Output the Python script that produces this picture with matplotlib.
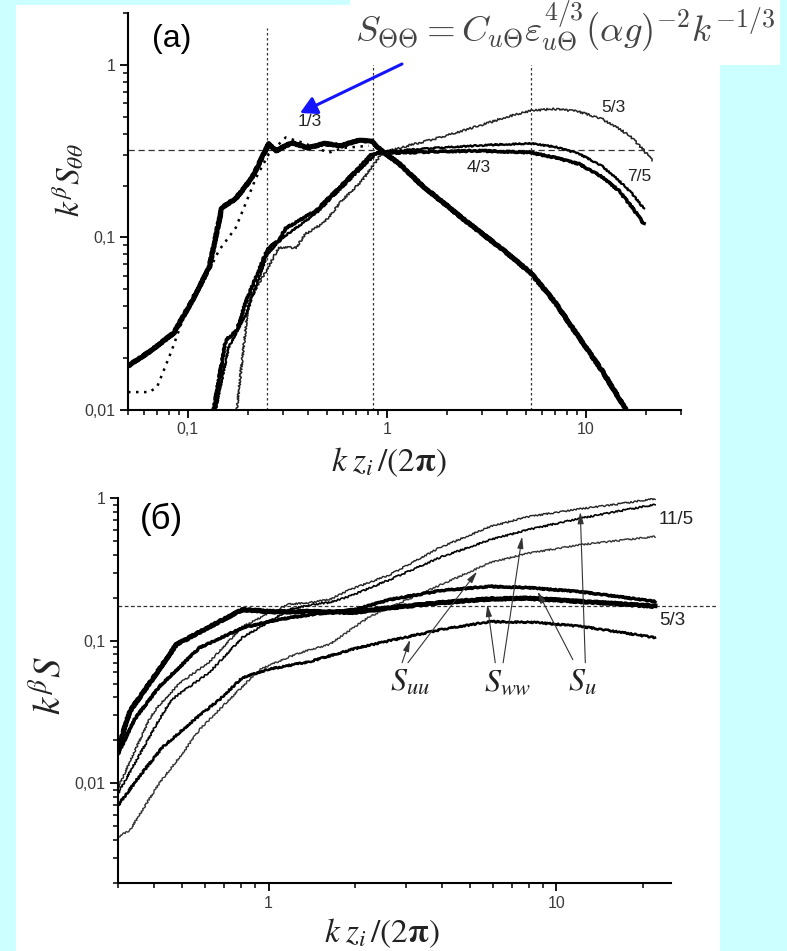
import numpy as np
import matplotlib
matplotlib.use('Agg')
import matplotlib.pyplot as plt
from matplotlib.patches import Rectangle, FancyArrowPatch
from matplotlib.ticker import LogLocator, FuncFormatter, NullFormatter

plt.rcParams['font.family'] = ['Liberation Sans', 'DejaVu Sans']
plt.rcParams['mathtext.fontset'] = 'stix'

# ---------------- panel (a) data ----------------
theta_x = [0.05, 0.065, 0.085, 0.105, 0.128, 0.148, 0.174, 0.21, 0.255, 0.277, 0.333, 0.4,
           0.484, 0.595, 0.7, 0.83, 0.94, 1.15, 1.5, 2.5, 3.87, 5.3, 7.0, 9.2, 12.0, 15.9, 18.0]
theta_y = [0.018, 0.022, 0.028, 0.043, 0.067, 0.149, 0.168, 0.222, 0.35, 0.318, 0.354, 0.33,
           0.35, 0.34, 0.364, 0.364, 0.318, 0.268, 0.2, 0.124, 0.084, 0.062, 0.042, 0.0264,
           0.017, 0.01, 0.0075]

dot_x = [0.05, 0.064, 0.07, 0.083, 0.098, 0.123, 0.143, 0.174, 0.22, 0.255, 0.31, 0.375,
         0.51, 0.6, 0.81]
dot_y = [0.0127, 0.0127, 0.0136, 0.0222, 0.038, 0.0587, 0.084, 0.114, 0.222, 0.305, 0.38,
         0.355, 0.31, 0.33, 0.34]

c43_x = [0.132, 0.155, 0.176, 0.195, 0.247, 0.255, 0.286, 0.31, 0.44, 0.555, 0.7, 0.83,
         0.91, 1.2, 1.82, 3.0, 5.3, 7.0, 9.2, 12.0, 14.6, 17.0, 19.5]
c43_y = [0.009, 0.0254, 0.029, 0.042, 0.082, 0.0875, 0.096, 0.113, 0.143, 0.187, 0.244, 0.3,
         0.31, 0.31, 0.315, 0.318, 0.31, 0.29, 0.267, 0.225, 0.187, 0.15, 0.12]

c75_x = [0.135, 0.16, 0.2, 0.25, 0.3, 0.44, 0.7, 0.87, 1.0, 1.82, 3.5, 5.3, 7.0, 9.2,
         12.0, 14.6, 17.0, 19.5]
c75_y = [0.009, 0.023, 0.038, 0.08, 0.1, 0.138, 0.235, 0.3, 0.315, 0.331, 0.345, 0.35,
         0.335, 0.306, 0.26, 0.214, 0.18, 0.147]

c53_x = [0.174, 0.202, 0.247, 0.286, 0.35, 0.39, 0.484, 0.595, 0.75, 0.91, 1.0, 1.4, 1.82,
         2.9, 4.0, 5.3, 6.75, 9.0, 12.0, 15.0, 17.0, 19.5, 21.5]
c53_y = [0.009, 0.043, 0.064, 0.0875, 0.0875, 0.105, 0.122, 0.164, 0.214, 0.29, 0.315, 0.35,
         0.378, 0.444, 0.5, 0.542, 0.556, 0.54, 0.487, 0.42, 0.378, 0.32, 0.279]

vlines_a = [0.25, 0.85, 5.3]
hline_a = 0.32

# ---------------- panel (б) data ----------------
su_top_x = [0.3, 0.385, 0.41, 0.49, 0.623, 0.81, 1.0, 1.18, 1.39, 1.63, 1.92, 2.64, 3.94,
            5.9, 8.0, 12.1, 16.0, 22.0]
su_top_y = [0.0093, 0.028, 0.034, 0.05, 0.071, 0.125, 0.155, 0.18, 0.185, 0.194, 0.228,
            0.29, 0.45, 0.63, 0.74, 0.84, 0.9, 0.99]

sww_up_x = [0.3, 0.417, 0.46, 0.55, 0.623, 0.81, 1.0, 1.18, 1.39, 1.63, 1.92, 2.64, 3.94,
            5.9, 8.0, 12.1, 16.0, 22.0]
sww_up_y = [0.0085, 0.028, 0.0386, 0.05, 0.06, 0.105, 0.135, 0.165, 0.178, 0.185, 0.205,
            0.268, 0.383, 0.51, 0.6, 0.72, 0.8, 0.9]

suu_up_x = [0.3, 0.33, 0.417, 0.5, 0.575, 0.623, 0.73, 0.93, 1.18, 1.39, 1.63, 2.25, 3.64,
            5.89, 8.0, 12.1, 16.0, 22.0]
suu_up_y = [0.0042, 0.0047, 0.01, 0.016, 0.0237, 0.028, 0.0386, 0.0626, 0.077, 0.0865,
            0.094, 0.148, 0.228, 0.352, 0.41, 0.47, 0.5, 0.537]

su_low_x = [0.3, 0.342, 0.417, 0.575, 0.81, 1.07, 1.39, 2.0, 2.64, 4.0, 5.9, 8.0, 12.1,
            16.0, 22.0]
su_low_y = [0.016, 0.028, 0.0475, 0.089, 0.123, 0.14, 0.152, 0.165, 0.194, 0.225, 0.24,
            0.235, 0.22, 0.205, 0.188]

sww_low_x = [0.3, 0.315, 0.33, 0.394, 0.478, 0.623, 0.81, 1.07, 1.39, 2.0, 2.64, 4.0, 5.9,
             8.0, 12.1, 16.0, 22.0]
sww_low_y = [0.0172, 0.024, 0.032, 0.0533, 0.0937, 0.125, 0.165, 0.159, 0.16, 0.158, 0.17,
             0.185, 0.196, 0.198, 0.188, 0.182, 0.174]

suu_low_x = [0.3, 0.355, 0.427, 0.553, 0.675, 0.81, 1.0, 1.39, 2.0, 2.64, 4.0, 5.9, 8.5,
             12.1, 16.0, 22.0]
suu_low_y = [0.007, 0.0111, 0.0178, 0.028, 0.0386, 0.055, 0.063, 0.0713, 0.088, 0.1, 0.12,
             0.136, 0.134, 0.126, 0.116, 0.105]

hline_b = 0.176

W, H = 787, 951
fig = plt.figure(figsize=(W / 100, H / 100), dpi=100)
fig.patch.set_facecolor('#ccffff')
fig.add_artist(Rectangle((16 / W, 0), (720 - 16) / W, (H - 5) / H, transform=fig.transFigure,
                         facecolor='white', edgecolor='none', zorder=-10))


def fmt(v, pos):
    return ('%g' % v).replace('.', ',')


def style_axes(ax):
    ax.set_xscale('log')
    ax.set_yscale('log')
    ax.set_facecolor('none')
    for s in ['top', 'right']:
        ax.spines[s].set_visible(False)
    for s in ['left', 'bottom']:
        ax.spines[s].set_linewidth(1.5)
    for axis in (ax.xaxis, ax.yaxis):
        axis.set_major_locator(LogLocator(base=10, numticks=20))
        axis.set_minor_locator(LogLocator(base=10, subs=np.arange(2, 10), numticks=20))
        axis.set_major_formatter(FuncFormatter(fmt))
        axis.set_minor_formatter(NullFormatter())
    ax.tick_params(which='major', direction='out', length=6, width=1.3, labelsize=11.5,
                   labelcolor='#3a3a3a', pad=3)
    ax.tick_params(which='minor', direction='out', length=3.5, width=1.1)


def noisy(line, scale, length=3, rand=3):
    line.set_sketch_params(scale, length, rand)


# ---------------- panel (a) ----------------
ax_a = fig.add_axes([128 / W, 1 - 410 / H, (681 - 128) / W, (410 - 13) / H])
style_axes(ax_a)
ax_a.set_xlim(0.05, 30)
ax_a.set_ylim(0.01, 2)

ax_a.vlines(vlines_a, 0.01, 1.64, colors='#333333', linestyles=(0, (2, 2)), lw=0.9)
ax_a.hlines(hline_a, 0.05, 22, colors='#333333', linestyles=(0, (5, 3)), lw=0.9)

l, = ax_a.plot(c53_x, c53_y, color='#222222', lw=1.1)
noisy(l, 1.0)
l, = ax_a.plot(c75_x, c75_y, color='black', lw=1.6)
noisy(l, 0.7)
l, = ax_a.plot(c43_x, c43_y, color='black', lw=2.4)
noisy(l, 0.7)
ax_a.plot(dot_x, dot_y, color='black', lw=1.8, linestyle=(0, (1, 2.2)))
l, = ax_a.plot(theta_x, theta_y, color='black', lw=3.6, solid_joinstyle='round')
noisy(l, 0.5)

for txt, xx, yy in [('1/3', 0.41, 0.47), ('5/3', 13.8, 0.57), ('4/3', 2.9, 0.254),
                    ('7/5', 18.5, 0.225)]:
    ax_a.text(xx, yy, txt, fontsize=12.5, color='#222222', ha='center', va='center')

# ---------------- panel (б) ----------------
ax_b = fig.add_axes([118 / W, 1 - 883 / H, (671 - 118) / W, (883 - 498) / H])
style_axes(ax_b)
ax_b.set_xlim(0.3, 25)
ax_b.set_ylim(0.002, 1)

ax_b.hlines(hline_b, 0.3, 36, colors='#333333', linestyles=(0, (3, 2)), lw=0.9, clip_on=False)

l, = ax_b.plot(suu_up_x, suu_up_y, color='#333333', lw=1.0)
noisy(l, 0.8)
l, = ax_b.plot(su_top_x, su_top_y, color='#222222', lw=1.0)
noisy(l, 0.8)
l, = ax_b.plot(sww_up_x, sww_up_y, color='black', lw=1.2)
noisy(l, 0.8)
l, = ax_b.plot(suu_low_x, suu_low_y, color='black', lw=1.8)
noisy(l, 0.8)
l, = ax_b.plot(su_low_x, su_low_y, color='black', lw=2.4)
noisy(l, 0.6)
l, = ax_b.plot(sww_low_x, sww_low_y, color='black', lw=3.4)
noisy(l, 0.6)

ax_b.text(26, 0.706, '11/5', fontsize=13.5, color='#222222', ha='center', va='center')
ax_b.text(25.3, 0.138, '5/3', fontsize=13.5, color='#222222', ha='center', va='center')

for txt, xx in [(r'$S_{uu}$', 3.1), (r'$S_{ww}$', 6.8), (r'$S_{u}$', 12.3)]:
    ax_b.text(xx, 0.0507, txt, fontsize=23, color='#222222', ha='center', va='center')

arrows_b = [((2.91, 0.070), (3.1, 0.1016)), ((3.05, 0.070), (5.3, 0.305)),
            ((6.13, 0.070), (5.75, 0.179)), ((6.53, 0.070), (7.6, 0.537)),
            ((11.4, 0.0736), (8.6, 0.221)), ((12.6, 0.070), (12.1, 0.80))]
for (x0, y0), (x1, y1) in arrows_b:
    ax_b.annotate('', xy=(x1, y1), xytext=(x0, y0),
                  arrowprops=dict(arrowstyle='-|>,head_length=0.7,head_width=0.18',
                                  lw=0.8, color='#333333', shrinkA=0, shrinkB=0))

# ---------------- labels ----------------
fig.text(68 / W, 1 - 180 / H, r'$k^{\beta}S_{\theta\theta}$', rotation=90, fontsize=24,
         ha='center', va='center', color='#222222')
fig.text(50 / W, 1 - 686 / H, r'$k^{\beta}S$', rotation=90, fontsize=28,
         ha='center', va='center', color='#222222')
xlab = r'$k\;z_i\,/(2\mathbf{\pi})$'
fig.text(389 / W, 1 - 462 / H, xlab, fontsize=24, ha='center', va='center', color='#222222')
fig.text(382 / W, 1 - 933 / H, xlab, fontsize=24, ha='center', va='center', color='#222222')
fig.text(172 / W, 1 - 39 / H, '(a)', fontsize=23, ha='center', va='center', color='black')
fig.text(161 / W, 1 - 519 / H, '(б)', fontsize=25, ha='center', va='center', color='black')

# formula box
fig.add_artist(Rectangle((350 / W, 1 - 65 / H), (780 - 350) / W, 65 / H,
                         transform=fig.transFigure, facecolor='white', edgecolor='none',
                         zorder=5))
fig.text(565 / W, 1 - 27 / H,
         r'$S_{\Theta\Theta} = C_{u\Theta}\varepsilon_{u\Theta}^{4/3}(\alpha g)^{-2}k^{-1/3}$',
         fontsize=26.5, math_fontfamily='cm', ha='center', va='center', color='#444444',
         zorder=6)

fig.add_artist(FancyArrowPatch((402 / W, 1 - 64 / H), (300 / W, 1 - 113 / H),
                               transform=fig.transFigure, color='#1414ff', lw=2.2,
                               arrowstyle='-|>,head_length=10,head_width=5.5',
                               shrinkA=0, shrinkB=0, zorder=7))

fig.savefig('out.png', dpi=100, facecolor=fig.get_facecolor())
